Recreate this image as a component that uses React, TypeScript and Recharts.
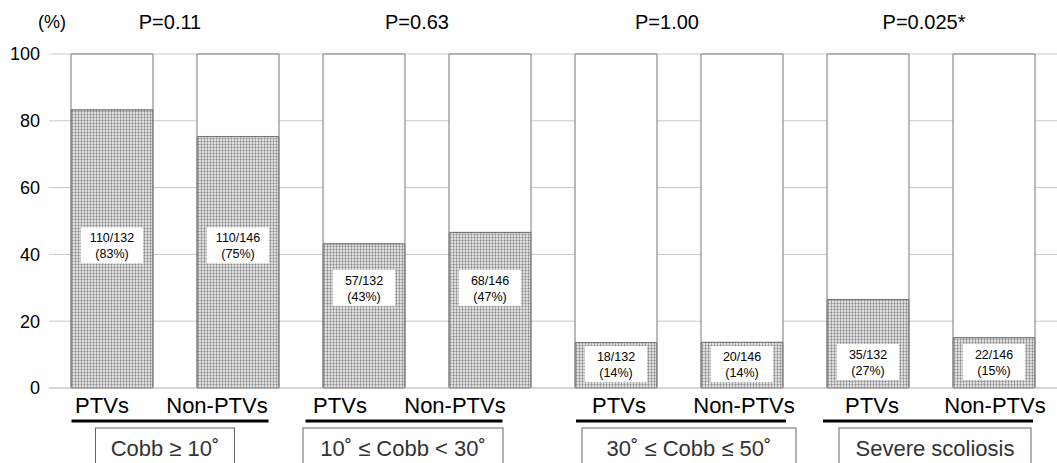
import React from 'react';
import { ComposedChart, Bar, XAxis, YAxis, CartesianGrid, LabelList } from 'recharts';

// ---- data ----
const categories = ['PTVs', 'Non-PTVs', 'PTVs', 'Non-PTVs', 'PTVs', 'Non-PTVs', 'PTVs', 'Non-PTVs'];
const groupNames = ['Cobb ≥ 10˚', '10˚ ≤ Cobb < 30˚', '30˚ ≤ Cobb ≤ 50˚', 'Severe scoliosis'];
const groupOfBar = [0, 0, 1, 1, 2, 2, 3, 3];
const pValues = ['P=0.11', 'P=0.63', 'P=1.00', 'P=0.025*'];
const percentValues = [83.3, 75.3, 43.2, 46.6, 13.6, 13.7, 26.5, 15.1];
const countLabels = ['110/132', '110/146', '57/132', '68/146', '18/132', '20/146', '35/132', '22/146'];
const percentLabels = ['(83%)', '(75%)', '(43%)', '(47%)', '(14%)', '(14%)', '(27%)', '(15%)'];
const labelAt = [42.7, 42.7, 30, 30, 7.2, 7.2, 7.8, 7.8];
const yTicks = [0, 20, 40, 60, 80, 100];

// ---- layout (not data) ----
const tickShift = [-10, -21, -24, -35, 3, 2, 4, 1];
const underlineShift = [-5, -23, 2, -3];
const underlineWidth = [197, 197, 210, 210];
const boxShift = [-10, -24, 10, 4];
const boxWidth = [139, 200, 214, 192];
const pShift = [-5, -10, -12, -7];
const TOP_LABEL_Y = 29;
const FONT = '"Liberation Sans", Arial, sans-serif';

const data = categories.map((c, i) => ({
  cat: c + '#' + i,
  label: c,
  group: groupNames[groupOfBar[i]],
  filled: percentValues[i],
  rest: 100 - percentValues[i],
}));

const MainTick = (props: any) => {
  const { x, y, index, payload } = props;
  const text = String(payload.value).split('#')[0];
  return (
    <text x={x + (tickShift[index] || 0)} y={y + 25} textAnchor="middle" fontSize={22} fill="#000" fontFamily={FONT}>
      {text}
    </text>
  );
};

const GroupTick = (props: any) => {
  const { x, y, index } = props;
  const uw = underlineWidth[index];
  const ux = x + underlineShift[index];
  const bw = boxWidth[index];
  const bx = x + boxShift[index];
  return (
    <g>
      <text x={x + pShift[index]} y={TOP_LABEL_Y} textAnchor="middle" fontSize={20} fill="#000" fontFamily={FONT}>
        {pValues[index]}
      </text>
      <line x1={ux - uw / 2} x2={ux + uw / 2} y1={y + 11} y2={y + 11} stroke="#000" strokeWidth={3} />
      <rect x={bx - bw / 2} y={y + 18} width={bw} height={50} fill="#fff" stroke="#666" strokeWidth={1} />
      <text x={bx} y={y + 46} textAnchor="middle" fontSize={22} fill="#333" fontFamily={FONT}>
        {groupNames[index]}
      </text>
    </g>
  );
};

const BoxLabel = (props: any) => {
  const { x, y, width, height, index } = props;
  const v = percentValues[index];
  const bottom = y + height;
  const cy = bottom - (labelAt[index] * height) / v;
  const cx = x + width / 2;
  return (
    <g>
      <rect x={cx - 31} y={cy - 18} width={62} height={36} fill="#fff" />
      <text x={cx} y={cy - 3} textAnchor="middle" fontSize={12.5} fill="#000" fontFamily={FONT}>
        {countLabels[index]}
      </text>
      <text x={cx} y={cy + 13} textAnchor="middle" fontSize={12.5} fill="#000" fontFamily={FONT}>
        {percentLabels[index]}
      </text>
    </g>
  );
};

export default function App() {
  return (
    <div style={{ position: 'absolute', left: 0, top: 0, width: 1057, height: 463, background: '#fff' }}>
      <ComposedChart width={1057} height={463} data={data} margin={{ top: 54, right: 0, left: 0, bottom: 0 }}>
        <defs>
          <pattern id="dots" width="3" height="3" patternUnits="userSpaceOnUse">
            <rect x="0" y="0" width="3" height="3" fill="#dedede" />
            <rect x="0" y="0" width="1" height="3" fill="#ababab" />
            <rect x="0" y="0" width="3" height="1" fill="#b8b8b8" />
            <rect x="0" y="0" width="1" height="1" fill="#8c8c8c" />
          </pattern>
        </defs>
        <text x={52} y={28} textAnchor="middle" fontSize={18} fill="#000" fontFamily={FONT}>(%)</text>
        <CartesianGrid vertical={false} stroke="#c8c8c8" />
        <XAxis
          dataKey="cat"
          interval={0}
          height={22}
          tickLine={false}
          tickSize={0}
          tickMargin={0}
          axisLine={{ stroke: '#c8c8c8' }}
          tick={<MainTick />}
        />
        <XAxis
          xAxisId="g"
          dataKey="group"
          allowDuplicatedCategory={false}
          interval={0}
          height={53}
          tickLine={false}
          tickSize={0}
          tickMargin={0}
          axisLine={false}
          tick={<GroupTick />}
        />
        <YAxis
          width={49}
          domain={[0, 100]}
          ticks={yTicks}
          tickLine={false}
          axisLine={false}
          tickSize={0}
          tickMargin={9}
          tick={{ fontSize: 18, fill: '#000', fontFamily: FONT }}
        />
        <Bar dataKey="filled" stackId="a" barSize={82} fill="url(#dots)" stroke="#444" strokeWidth={1} isAnimationActive={false}>
          <LabelList dataKey="filled" content={<BoxLabel />} />
        </Bar>
        <Bar dataKey="rest" stackId="a" barSize={82} fill="#fff" stroke="#777" strokeWidth={1} isAnimationActive={false} />
      </ComposedChart>
    </div>
  );
}
